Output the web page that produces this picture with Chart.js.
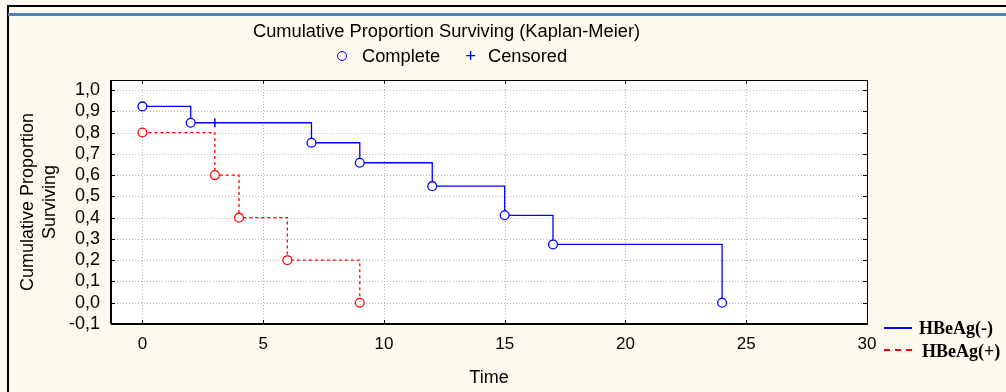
<!DOCTYPE html>
<html>
<head>
<meta charset="utf-8">
<script src="https://cdn.jsdelivr.net/npm/chart.js@4/dist/chart.umd.min.js"></script>
<style>
  html, body { margin: 0; padding: 0; background: #fdf9ee; }
  #wrap { position: relative; width: 1006px; height: 392px; overflow: hidden; background: #fdf9ee; }
  #frameTop { position: absolute; left: 8px; top: 5px; width: 1000px; height: 2px; background: #000; }
  #frameLeft { position: absolute; left: 7px; top: 5px; width: 2px; height: 400px; background: #000; }
  #blueBar { position: absolute; left: 8px; top: 13px; width: 1000px; height: 3px; background: #4f81bd; }
  canvas { position: absolute; left: 0; top: 0; }
  .txt { position: absolute; font-family: "Liberation Sans", Arial, sans-serif; color: #000; white-space: nowrap; line-height: 1; }
  #title { left: 253px; top: 22px; font-size: 18.3px; }
  #topLegend { left: 337px; top: 47px; font-size: 18.3px; }
  #topLegend .circ { display: inline-block; box-sizing: border-box; width: 10px; height: 10px; border: 1.4px solid #0000ff; border-radius: 50%; margin-right: 15px; vertical-align: 1px; }
  #topLegend .plus { color: #0000ff; margin: 0 12px 0 25px; }
  .rl { position: absolute; font-family: "Liberation Serif", "Times New Roman", serif; font-weight: bold; font-size: 18px; color: #000; white-space: nowrap; line-height: 1; }
  .rline { position: absolute; }
</style>
</head>
<body>
<div id="wrap">
  <canvas id="c" width="1006" height="392"></canvas>
  <div id="frameTop"></div>
  <div id="frameLeft"></div>
  <div id="blueBar"></div>
  <div class="txt" id="title">Cumulative Proportion Surviving (Kaplan-Meier)</div>
  <div class="txt" id="topLegend"><span class="circ"></span>Complete<span class="plus">+</span>Censored</div>
  <div class="rline" style="left:884px; top:327px; width:28px; height:2px; background:#0000ff;"></div>
  <div class="rl" style="left:919px; top:319px;">HBeAg(-)</div>
  <div class="rline" style="left:884px; top:349px; width:28px; height:0; border-top:2px dashed #ff0000;"></div>
  <div class="rl" style="left:922px; top:342px;">HBeAg(+)</div>
</div>
<script>
// ---- data ----
const blueTimes = [0, 2, 7, 9, 12, 15, 17, 24];
const blueSurv  = [0.923, 0.846, 0.752, 0.658, 0.548, 0.411, 0.274, 0.0];
const redTimes  = [0, 3, 4, 6, 9];
const redSurv   = [0.8, 0.6, 0.4, 0.2, 0.0];
const censTimes = [3];
const censSurv  = [0.846];
const xTicks = [0, 5, 10, 15, 20, 25, 30];
const yTicks = [-0.1, 0.0, 0.1, 0.2, 0.3, 0.4, 0.5, 0.6, 0.7, 0.8, 0.9, 1.0];

const toPts = (xs, ys) => xs.map((x, i) => ({ x: x, y: ys[i] }));

const framePlugin = {
  id: 'frame',
  beforeDraw(chart) {
    const { ctx, chartArea: a } = chart;
    ctx.save();
    ctx.fillStyle = '#ffffff';
    ctx.fillRect(a.left, a.top, a.right - a.left, a.bottom - a.top);
    ctx.restore();
  },
  beforeDatasetsDraw(chart) {
    const { ctx, chartArea: a, scales } = chart;
    ctx.save();
    ctx.strokeStyle = '#b4b4b4';
    ctx.lineWidth = 1;
    ctx.setLineDash([1, 2]);
    ctx.beginPath();
    xTicks.forEach(v => {
      const x = Math.round(scales.x.getPixelForValue(v)) + 0.5;
      ctx.moveTo(x, a.top); ctx.lineTo(x, a.bottom);
    });
    yTicks.forEach(v => {
      const y = Math.round(scales.y.getPixelForValue(v)) + 0.5;
      ctx.moveTo(a.left, y); ctx.lineTo(a.right, y);
    });
    ctx.stroke();
    ctx.restore();
  },
  afterDatasetsDraw(chart) {
    const { ctx, chartArea: a, scales } = chart;
    ctx.save();
    ctx.strokeStyle = '#000';
    ctx.lineWidth = 1;
    ctx.strokeRect(Math.round(a.left) + 0.5, Math.round(a.top) + 0.5,
                   Math.round(a.right - a.left), Math.round(a.bottom - a.top));
    ctx.lineWidth = 2;
    ctx.beginPath();
    ctx.moveTo(a.left, a.bottom); ctx.lineTo(a.right, a.bottom);
    ctx.moveTo(a.left, a.top); ctx.lineTo(a.left, a.bottom);
    ctx.stroke();
    ctx.lineWidth = 1;
    ctx.beginPath();
    const L = 4;
    xTicks.forEach(v => {
      const x = Math.round(scales.x.getPixelForValue(v)) + 0.5;
      ctx.moveTo(x, a.bottom); ctx.lineTo(x, a.bottom - L);
      ctx.moveTo(x, a.top); ctx.lineTo(x, a.top + L);
    });
    yTicks.forEach(v => {
      const y = Math.round(scales.y.getPixelForValue(v)) + 0.5;
      ctx.moveTo(a.left, y); ctx.lineTo(a.left + L, y);
      ctx.moveTo(a.right, y); ctx.lineTo(a.right - L, y);
    });
    ctx.stroke();
    ctx.restore();
  }
};

const fontFam = '"Liberation Sans", Arial, sans-serif';

new Chart(document.getElementById('c'), {
  type: 'line',
  data: {
    datasets: [
      {
        label: 'HBeAg(-)',
        data: toPts(blueTimes, blueSurv),
        borderColor: '#0000ff',
        borderWidth: 1.3,
        stepped: true,
        pointStyle: 'circle',
        pointRadius: 4.4,
        pointBorderWidth: 1.3,
        pointBorderColor: '#0000ff',
        pointBackgroundColor: '#ffffff',
        fill: false
      },
      {
        label: 'HBeAg(+)',
        data: toPts(redTimes, redSurv),
        borderColor: '#ff0000',
        borderWidth: 1.3,
        borderDash: [3, 3],
        stepped: true,
        pointStyle: 'circle',
        pointRadius: 4.4,
        pointBorderWidth: 1.3,
        pointBorderColor: '#ff0000',
        pointBackgroundColor: '#ffffff',
        fill: false
      },
      {
        label: 'Censored',
        data: toPts(censTimes, censSurv),
        showLine: false,
        pointStyle: 'line',
        rotation: 90,
        pointRadius: 4.5,
        pointBorderWidth: 1.5,
        pointBorderColor: '#0000ff',
        borderColor: '#0000ff'
      }
    ]
  },
  options: {
    responsive: false,
    animation: false,
    events: [],
    layout: { padding: { top: 80, right: 139, left: 0, bottom: 0 } },
    plugins: { legend: { display: false }, title: { display: false }, tooltip: { enabled: false } },
    scales: {
      x: {
        type: 'linear',
        min: -1.3,
        max: 30,
        afterBuildTicks: s => { s.ticks = xTicks.map(v => ({ value: v })); },
        afterFit: s => { s.height = 68; },
        grid: { display: false },
        border: { display: false },
        ticks: { color: '#000', font: { family: fontFam, size: 17 }, padding: 2, maxRotation: 0, autoSkip: false,
                 callback: v => String(v) },
        title: { display: true, text: 'Time', color: '#000', font: { family: fontFam, size: 18 }, padding: { top: 4, bottom: 3 } }
      },
      y: {
        type: 'linear',
        min: -0.1,
        max: 1.047,
        afterBuildTicks: s => { s.ticks = yTicks.map(v => ({ value: v })); },
        afterFit: s => { s.width = 111; },
        grid: { display: false },
        border: { display: false },
        ticks: { color: '#000', font: { family: fontFam, size: 18 }, padding: 3, autoSkip: false,
                 callback: v => v.toFixed(1).replace('.', ',') },
        title: { display: true, text: ['Cumulative Proportion', 'Surviving'], color: '#000',
                 font: { family: fontFam, size: 18, lineHeight: 1.17 }, padding: { top: 18, bottom: 0 } }
      }
    }
  },
  plugins: [framePlugin]
});
</script>
</body>
</html>
